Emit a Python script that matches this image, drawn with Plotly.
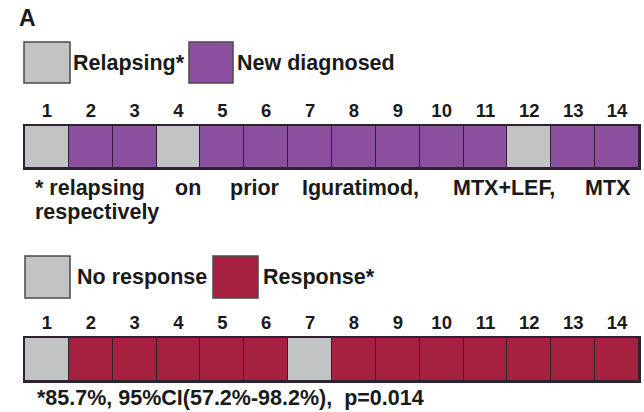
import plotly.graph_objects as go

W, H = 644, 412

# Patient index and per-patient categories
patients = list(range(1, 15))
tick_labels = [str(p) for p in patients]
disease_status = ["Relapsing", "New diagnosed", "New diagnosed", "Relapsing",
                  "New diagnosed", "New diagnosed", "New diagnosed", "New diagnosed",
                  "New diagnosed", "New diagnosed", "New diagnosed", "Relapsing",
                  "New diagnosed", "New diagnosed"]
treatment_outcome = ["No response", "Response", "Response", "Response", "Response",
                     "Response", "No response", "Response", "Response", "Response",
                     "Response", "Response", "Response", "Response"]
cell_value = [1] * 14

GRAY = "#c2c3c5"
PURPLE = "#8a4f9f"
CRIMSON = "#a6213f"
EDGE = "#2e2230"
status_colors = {"Relapsing": GRAY, "New diagnosed": PURPLE}
outcome_colors = {"No response": GRAY, "Response": CRIMSON}

FONT = "Liberation Sans, Arial, sans-serif"


def px_x(v):
    return v / W


def px_y(v):
    return 1 - v / H


fig = go.Figure()

fig.add_trace(go.Bar(
    x=patients, y=cell_value, width=1,
    marker=dict(color=[status_colors[s] for s in disease_status],
                line=dict(color=EDGE, width=1)),
    xaxis="x", yaxis="y", hoverinfo="x+text", text=disease_status,
    textposition="none", showlegend=False))

fig.add_trace(go.Bar(
    x=patients, y=cell_value, width=1,
    marker=dict(color=[outcome_colors[s] for s in treatment_outcome],
                line=dict(color=EDGE, width=1)),
    xaxis="x2", yaxis="y2", hoverinfo="x+text", text=treatment_outcome,
    textposition="none", showlegend=False))

x_dom = [px_x(25), px_x(639)]
xaxis_common = dict(
    domain=x_dom, range=[0.5, 14.5], side="top", tickmode="array",
    tickvals=patients, ticktext=tick_labels, ticks="", showgrid=False,
    zeroline=False, showline=True, mirror=True, linecolor=EDGE, linewidth=1.5,
    tickfont=dict(family=FONT, size=18.5, color="#1a1a1a", weight="bold"),
    fixedrange=True)
yaxis_common = dict(
    range=[0, 1], showticklabels=False, showgrid=False, zeroline=False,
    showline=True, mirror=True, linecolor=EDGE, linewidth=1.5, fixedrange=True)

fig.update_layout(
    width=W, height=H, margin=dict(l=0, r=0, t=0, b=0),
    paper_bgcolor="white", plot_bgcolor="white", bargap=0,
    xaxis=dict(anchor="y", **xaxis_common),
    yaxis=dict(anchor="x", domain=[px_y(168), px_y(126)], **yaxis_common),
    xaxis2=dict(anchor="y2", **xaxis_common),
    yaxis2=dict(anchor="x2", domain=[px_y(381), px_y(338)], **yaxis_common),
)

txt = dict(family=FONT, size=21.5, color="#1a1a1a", weight="bold")
annotations = []


def label(x, y, s, size=21.5, anchor="left"):
    annotations.append(dict(
        x=px_x(x), y=px_y(y), xref="paper", yref="paper", text=s,
        showarrow=False, xanchor=anchor, yanchor="middle",
        font=dict(txt, size=size)))


# Panel letter
label(17, 18, "A", size=23)

# Legend swatches and labels
shapes = []


def swatch(x0, x1, y0, y1, color):
    shapes.append(dict(type="rect", xref="paper", yref="paper",
                       x0=px_x(x0), x1=px_x(x1), y0=px_y(y1), y1=px_y(y0),
                       fillcolor=color, line=dict(color="#4a4a4a", width=1.5)))


swatch(24, 70, 42, 83, GRAY)
label(71, 63, "Relapsing*")
swatch(189, 233, 42, 83, PURPLE)
label(235, 63, "New diagnosed")

swatch(25, 70, 256, 298, GRAY)
label(75, 277, "No response")
swatch(213, 258, 256, 298, CRIMSON)
label(261, 277, "Response*")

# Justified footnote for the first strip
for x, w in [(33, "* relapsing"), (173, "on"), (228, "prior"),
             (300, "Iguratimod,"), (451, "MTX+LEF,"), (583, "MTX")]:
    label(x, 188, w)
label(33, 212, "respectively")

# Footnote for the second strip
label(35, 398, "*85.7%, 95%CI(57.2%-98.2%),  p=0.014")

fig.update_layout(annotations=annotations, shapes=shapes)

fig.write_html("out.html")
